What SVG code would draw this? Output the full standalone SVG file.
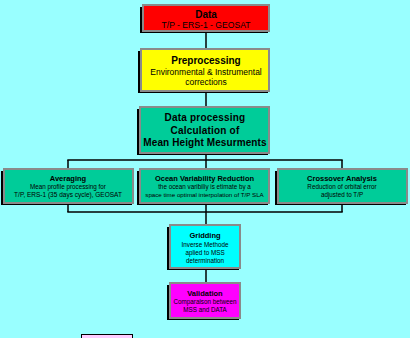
<svg xmlns="http://www.w3.org/2000/svg" width="410" height="338" viewBox="0 0 410 338">
<style>
.sh{fill:#000}
.bx{stroke:#8a8a8a;stroke-width:2}
.t{font-family:"Liberation Sans",Arial,sans-serif;text-anchor:middle;fill:#000}
.tb{font-weight:bold}
.conn line{stroke:#000;stroke-width:1.5}
</style>
<rect width="410" height="338" fill="#99FFFF"/>
<g id="connectors" class="conn">
<line x1="206" y1="31" x2="206" y2="49"/>
<line x1="206" y1="91" x2="206" y2="107"/>
<line x1="206" y1="154" x2="206" y2="169"/>
<line x1="67.3" y1="160" x2="342.7" y2="160"/>
<line x1="68" y1="160" x2="68" y2="169"/>
<line x1="342" y1="160" x2="342" y2="169"/>
<line x1="68" y1="203" x2="68" y2="212"/>
<line x1="206" y1="203" x2="206" y2="225"/>
<line x1="342" y1="203" x2="342" y2="212"/>
<line x1="67.3" y1="212" x2="342.7" y2="212"/>
<line x1="206" y1="268" x2="206" y2="283"/>
</g>
<g id="data">
<rect class="sh" x="140" y="7" width="128" height="26"/>
<rect class="bx" x="143" y="5" width="126" height="26" fill="#FF0000"/>
<text class="t tb" x="206" y="18" font-size="10">Data</text>
<text class="t" x="206" y="27.5" font-size="8.6">T/P - ERS-1 - GEOSAT</text>
</g>
<g id="preprocessing">
<rect class="sh" x="138" y="51" width="130" height="42"/>
<rect class="bx" x="141" y="49" width="128" height="42" fill="#FFFF00"/>
<text class="t tb" x="206" y="63.5" font-size="10">Preprocessing</text>
<text class="t" x="206" y="74.5" font-size="8.5">Environmental &amp; Instrumental</text>
<text class="t" x="206" y="84.5" font-size="8.5">corrections</text>
</g>
<g id="dataprocessing">
<rect class="sh" x="137" y="109" width="131" height="46"/>
<rect class="bx" x="140" y="107" width="129" height="46" fill="#00CC99"/>
<text class="t tb" x="205" y="121" font-size="10" letter-spacing="0.2">Data processing</text>
<text class="t tb" x="205" y="133.5" font-size="10" letter-spacing="0.2">Calculation of</text>
<text class="t tb" x="205" y="146" font-size="10" letter-spacing="0.1">Mean Height Mesurments</text>
</g>
<g id="averaging">
<rect class="sh" x="1" y="171" width="131" height="34"/>
<rect class="bx" x="4" y="169" width="129" height="34" fill="#00CC99"/>
<text class="t tb" x="68" y="181" font-size="7.5">Averaging</text>
<text class="t" x="68" y="189" font-size="6.3">Mean profile processing for</text>
<text class="t" x="68" y="197" font-size="6.5">T/P, ERS-1 (35 days cycle), GEOSAT</text>
</g>
<g id="ocean">
<rect class="sh" x="137" y="171" width="131" height="34"/>
<rect class="bx" x="140" y="169" width="129" height="34" fill="#00CC99"/>
<text class="t tb" x="204.5" y="180.5" font-size="7.5">Ocean Variability Reduction</text>
<text class="t" x="204.5" y="189" font-size="6.3">the ocean varibiliy is etimate by a</text>
<text class="t" x="204.5" y="197" font-size="6.2">space time optimal interpolation of T/P SLA</text>
</g>
<g id="crossover">
<rect class="sh" x="275" y="171" width="131" height="34"/>
<rect class="bx" x="278" y="169" width="129" height="34" fill="#00CC99"/>
<text class="t tb" x="342" y="180.5" font-size="7.5">Crossover Analysis</text>
<text class="t" x="342" y="189" font-size="6.3">Reduction of orbital error</text>
<text class="t" x="342" y="197" font-size="6.3">adjusted to T/P</text>
</g>
<g id="gridding">
<rect class="sh" x="167" y="227" width="72" height="43"/>
<rect class="bx" x="170" y="225" width="70" height="43" fill="#00FFFF"/>
<text class="t tb" x="205" y="238" font-size="7.5">Gridding</text>
<text class="t" x="205" y="247" font-size="6.3">Inverse Methode</text>
<text class="t" x="205" y="255" font-size="6.3">aplied to MSS</text>
<text class="t" x="205" y="262.5" font-size="6.3">determination</text>
</g>
<g id="validation">
<rect class="sh" x="167" y="285" width="72" height="35"/>
<rect class="bx" x="170" y="283" width="70" height="35" fill="#FF00FF" stroke="#a080a8"/>
<text class="t tb" x="205" y="295.5" font-size="7.5">Validation</text>
<text class="t" x="205" y="304" font-size="6.3">Comparaison between</text>
<text class="t" x="205" y="312" font-size="6.3">MSS and DATA</text>
</g>
<g id="legend">
<rect x="81.5" y="334.5" width="51" height="10" fill="#FFCCFF" stroke="#000" stroke-width="1"/>
</g>
</svg>
